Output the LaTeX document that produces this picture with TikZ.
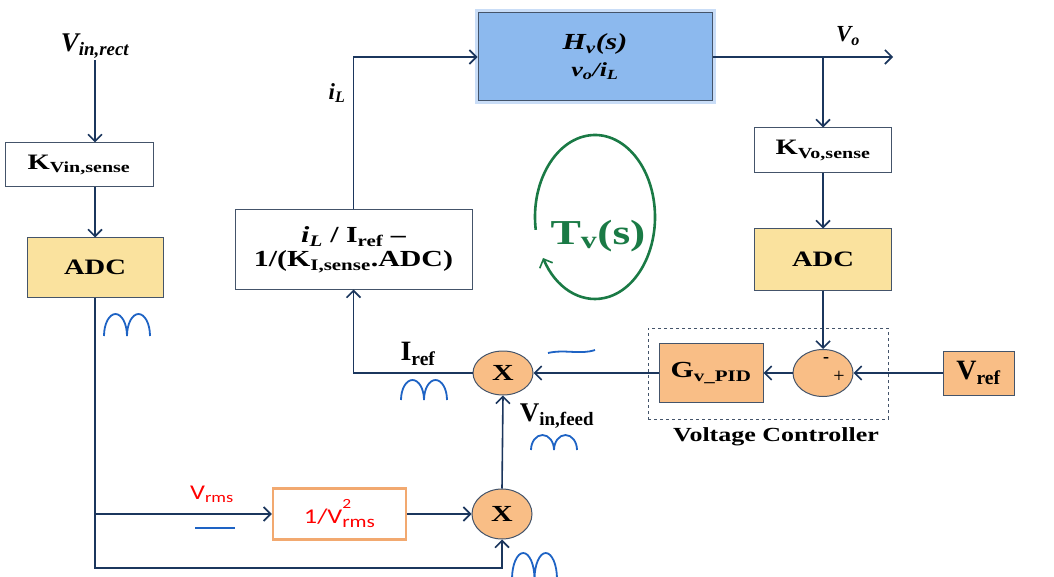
\documentclass[tikz,border=0pt]{standalone}
\usepackage{fontspec}
\setmainfont{Liberation Serif}
\newfontfamily\widefont{Liberation Serif}[FakeStretch=1.3]
\newfontfamily\calibri{Carlito}[FakeStretch=1.25]
\usepackage{tikz}
\usetikzlibrary{arrows.meta, positioning, shapes.geometric}

\definecolor{navyline}{HTML}{1B365D}
\definecolor{boxgray}{HTML}{44546A}
\definecolor{adcfill}{HTML}{FAE29E}
\definecolor{pidfill}{HTML}{F9BE86}
\definecolor{hvfill}{HTML}{8CB9EE}
\definecolor{hvglow}{HTML}{C9DDF7}
\definecolor{rmsedge}{HTML}{F2A970}
\definecolor{wavecol}{HTML}{1E63C4}
\definecolor{loopgreen}{HTML}{1A7A45}
\definecolor{rmsred}{HTML}{FF0000}

\begin{document}
\begin{tikzpicture}[
    x=1pt, y=-1pt,
    >={Straight Barb[length=7pt, width=14pt, line width=1.6pt]},
    wire/.style={draw=navyline, line width=1.6pt},
    block/.style={rectangle, draw=boxgray, line width=1pt, fill=white, align=center,
                  inner sep=2pt, font=\widefont\bfseries\fontsize{22}{24}\selectfont},
    adcbox/.style={block, fill=adcfill},
    pidbox/.style={block, fill=pidfill},
    hvbox/.style={block, fill=hvfill, font=\widefont\bfseries\itshape\fontsize{23}{24}\selectfont,
                  preaction={draw=hvglow, line width=7pt}},
    rmsbox/.style={block, draw=rmsedge, line width=2.5pt, text=rmsred,
                   font=\calibri\fontsize{21}{24}\selectfont},
    mult/.style={ellipse, draw=boxgray, line width=1pt, fill=pidfill, inner sep=0pt,
                 font=\widefont\bfseries\fontsize{23}{24}\selectfont},
    signal/.style={font=\bfseries\fontsize{27}{28}\selectfont, inner sep=1pt},
    wave/.style={draw=wavecol, line width=1.8pt},
    frame/.style={draw=boxgray, dashed, line width=1pt, inner sep=0pt}
]
\useasboundingbox (0,0) rectangle (1054,577);

% left branch: rectified input voltage
\node[signal, font=\bfseries\itshape\fontsize{27}{28}\selectfont] (vinrect) at (95,46) {V\textsubscript{in,rect}};
\node[block, minimum width=148pt, minimum height=44pt] (kvin) at (79,165) {K\textsubscript{Vin,sense}};
\node[adcbox, minimum width=136pt, minimum height=59pt] (adcin) at (95,267.5) {ADC};
\node[rmsbox, minimum width=133pt, minimum height=51pt] (invrms) at (339.5,514)
    {1/V\rlap{\raisebox{15pt}{\fontsize{14}{14}\selectfont 2}}\raisebox{-4pt}{\fontsize{17}{17}\selectfont rms}};
\node[text=rmsred, font=\calibri\fontsize{21}{24}\selectfont] (vrms) at (212,494) {V\textsubscript{rms}};

% multipliers
\node[mult, minimum width=60pt, minimum height=50pt] (muldn) at (502,514) {X};
\node[mult, minimum width=60pt, minimum height=44pt] (mulup) at (503,373) {X};
\node[signal, font=\bfseries\fontsize{28}{30}\selectfont] (iref) at (418,354) {I\textsubscript{ref}};
\node[signal] (vinfeed) at (557,416) {V\textsubscript{in,feed}};

% current loop to plant
\node[block, minimum width=237pt, minimum height=79pt, font=\widefont\bfseries\fontsize{23}{24}\selectfont] (ilref) at (353.5,249.5)
    {\textit{i\textsubscript{L}} / I\textsubscript{ref} –\\1/(K\textsubscript{I,sense}.ADC)};
\node[signal, font=\bfseries\itshape\fontsize{23}{24}\selectfont] (il) at (337,93) {i\textsubscript{L}};
\node[hvbox, minimum width=234pt, minimum height=88pt] (hv) at (595,57)
    {H\textsubscript{v}(s)\\[3pt]{\fontsize{20}{22}\selectfont v\textsubscript{o}/i\textsubscript{L}}};
\node[signal, font=\bfseries\itshape\fontsize{23}{24}\selectfont] (vo) at (848,36) {V\textsubscript{o}};
\coordinate (vout) at (893,57);
\coordinate (vtap) at (823,57);

% output voltage feedback
\node[block, minimum width=137pt, minimum height=45pt] (kvo) at (823,150.5) {K\textsubscript{Vo,sense}};
\node[adcbox, minimum width=137pt, minimum height=61pt] (adcout) at (823,259.5) {ADC};

% voltage controller
\node[frame, minimum width=240pt, minimum height=91pt] (ctrl) at (768,373.5) {};
\node[font=\widefont\bfseries\fontsize{20}{22}\selectfont] (ctrllbl) at (776,437) {Voltage Controller};
\node[mult, minimum width=60pt, minimum height=47pt] (sum) at (823,373) {};
\node[font=\bfseries\fontsize{18}{20}\selectfont] (minus) at (826,360) {-};
\node[font=\fontsize{20}{22}\selectfont] (plus) at (839,377) {+};
\node[pidbox, minimum width=104pt, minimum height=59pt, font=\widefont\bfseries\fontsize{23}{25}\selectfont] (gpid) at (711,373) {G\textsubscript{v\_PID}};
\node[pidbox, minimum width=71pt, minimum height=44pt, font=\bfseries\fontsize{28}{29}\selectfont] (vref) at (978.5,373) {V\textsubscript{ref}};

% loop gain
\node[text=loopgreen, font=\widefont\bfseries\fontsize{35}{38}\selectfont] (tv) at (598,236) {T\textsubscript{v}(s)};
\draw[->, draw=loopgreen, line width=2.6pt] (595,217) ++(171:60 and 82)
    arc[start angle=171, end angle=510, x radius=60, y radius=82];

% connectors
\coordinate (ltap) at (95,514);
\coordinate (lcorner) at (95,568);
\draw[wire, ->] (vinrect.south) -- (vinrect.south |- kvin.north);
\draw[wire, ->] (adcin.north |- kvin.south) -- (adcin.north);
\draw[wire, ->] (adcin.south) -- (lcorner) -| (muldn.south);
\draw[wire, ->] (ltap) -- (invrms.west);
\draw[wire, ->] (invrms.east) -- (muldn.west);
\draw[wire, ->] (muldn.north) -- (mulup.south);
\draw[wire, ->] (mulup.west) -| (ilref.south);
\draw[wire, ->] (ilref.north) |- (hv.west);
\draw[wire, ->] (hv.east) -- (vout);
\draw[wire, ->] (vtap) -- (kvo.north);
\draw[wire, ->] (kvo.south) -- (adcout.north);
\draw[wire, ->] (adcout.south) -- (sum.north);
\draw[wire, ->] (vref.west) -- (sum.east);
\draw[wire, ->] (sum.west) -- (gpid.east);
\draw[wire, ->] (gpid.west) -- (mulup.east);

% waveform sketches
\foreach \wx/\wy/\ww/\wh in {104/336/46/22, 401/400/46/20, 531/450/46/15, 512/579/45/26} {
    \draw[wave] (\wx,\wy) arc[start angle=180, end angle=360, x radius=\ww/4, y radius=\wh]
        arc[start angle=180, end angle=360, x radius=\ww/4, y radius=\wh];
}
\draw[wave] (195,528) -- (235,528);
\draw[wave] (548,353) .. controls (565,349) and (580,355) .. (595,350);
\end{tikzpicture}
\end{document}
